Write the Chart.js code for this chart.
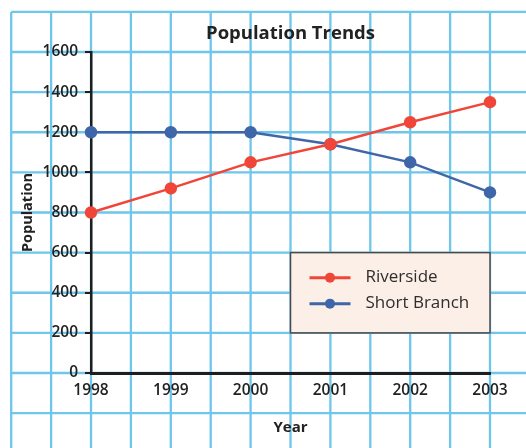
<!DOCTYPE html>
<html>
<head>
<meta charset="utf-8">
<script src="https://cdn.jsdelivr.net/npm/chart.js@4"></script>
<style>
  html, body { margin: 0; padding: 0; background: #fff; }
  canvas { display: block; }
</style>
</head>
<body>
<canvas id="pop-chart" width="526" height="448"></canvas>
<script>
const years = [1998, 1999, 2000, 2001, 2002, 2003];
const riverside = [800, 920, 1050, 1140, 1250, 1350];
const shortBranch = [1200, 1200, 1200, 1140, 1050, 900];
const yTicks = [0, 200, 400, 600, 800, 1000, 1200, 1400, 1600];

const FONT = "'Open Sans', 'DejaVu Sans', sans-serif";
const INK = '#222';
const PAPER = '#6ec6ea';

function pts(vals) {
    return vals.map((v, i) => ({ x: years[i], y: v }));
}

// graph paper behind everything, lined up with the scales
const graphPaper = {
    id: 'graphPaper',
    beforeDraw(chart) {
        const { ctx, width, height, scales: { x, y } } = chart;
        ctx.save();
        ctx.fillStyle = '#fff';
        ctx.fillRect(0, 0, width, height);
        const left = x.getPixelForValue(years[0] - 1);
        const top = y.getPixelForValue(yTicks[yTicks.length - 1] + 200);
        ctx.strokeStyle = PAPER;
        ctx.lineWidth = 2.3;
        ctx.beginPath();
        for (let v = years[0] - 1; ; v += 0.5) {
            const px = x.getPixelForValue(v);
            if (px > width) break;
            ctx.moveTo(px, top);
            ctx.lineTo(px, height);
        }
        for (let v = yTicks[yTicks.length - 1] + 200; ; v -= 200) {
            const py = y.getPixelForValue(v);
            if (py > height) break;
            ctx.moveTo(left, py);
            ctx.lineTo(width, py);
        }
        ctx.stroke();
        ctx.restore();
    }
};

// boxed legend sitting on the grid inside the plot
const boxLegend = {
    id: 'boxLegend',
    afterDatasetsDraw(chart) {
        const { ctx, scales: { x, y } } = chart;
        const bx = x.getPixelForValue(2000.5);
        const bx2 = x.getPixelForValue(2003);
        const by = y.getPixelForValue(600);
        const by2 = y.getPixelForValue(200);
        ctx.save();
        ctx.fillStyle = '#fcefe7';
        ctx.fillRect(bx, by, bx2 - bx, by2 - by);
        ctx.strokeStyle = '#4a4a4a';
        ctx.lineWidth = 1.5;
        ctx.strokeRect(bx, by, bx2 - bx, by2 - by);
        chart.data.datasets.forEach((ds, i) => {
            const ly = by + 25 + i * 26;
            ctx.strokeStyle = ds.borderColor;
            ctx.lineWidth = 3;
            ctx.beginPath();
            ctx.moveTo(bx + 19, ly);
            ctx.lineTo(bx + 60, ly);
            ctx.stroke();
            ctx.fillStyle = ds.borderColor;
            ctx.beginPath();
            ctx.arc(bx + 39.5, ly, 5, 0, Math.PI * 2);
            ctx.fill();
            ctx.fillStyle = '#2e2e2e';
            ctx.font = '17px ' + FONT;
            ctx.textBaseline = 'middle';
            ctx.fillText(ds.label, bx + 75, ly);
        });
        ctx.restore();
    }
};

const ctx = document.getElementById('pop-chart');

new Chart(ctx, {
    type: 'line',
    data: {
        datasets: [{
            label: 'Riverside',
            data: pts(riverside),
            borderColor: '#f0463a',
            backgroundColor: '#f0463a',
            borderWidth: 2.5,
            pointRadius: 5,
            pointHoverRadius: 5,
            clip: false
        }, {
            label: 'Short Branch',
            data: pts(shortBranch),
            borderColor: '#3f66a8',
            backgroundColor: '#3f66a8',
            borderWidth: 2.5,
            pointRadius: 5,
            pointHoverRadius: 5,
            clip: false
        }]
    },
    options: {
        responsive: false,
        animation: false,
        layout: { padding: { left: 0, top: 0, right: 36, bottom: 0 } },
        plugins: {
            legend: { display: false },
            tooltip: { enabled: false },
            title: {
                display: true,
                text: 'Population Trends',
                fullSize: false,
                color: INK,
                font: { family: FONT, size: 18.5, weight: 'bold', lineHeight: 1.2 },
                padding: { top: 23, bottom: 6.8 }
            }
        },
        scales: {
            x: {
                type: 'linear',
                min: years[0],
                max: years[years.length - 1],
                afterFit(scale) { scale.height = 75; },
                afterBuildTicks(scale) { scale.ticks = years.map(v => ({ value: v })); },
                ticks: {
                    color: INK,
                    padding: 8,
                    maxRotation: 0,
                    font: { family: FONT, size: 15.5, weight: '600' },
                    callback: v => String(v)
                },
                grid: { display: false, drawTicks: false },
                border: { display: true, color: '#1e1e1e', width: 3 },
                title: {
                    display: true,
                    text: 'Year',
                    color: INK,
                    font: { family: FONT, size: 15, weight: 'bold', lineHeight: 1.2 },
                    padding: { top: 0, bottom: 11 }
                }
            },
            y: {
                min: yTicks[0],
                max: yTicks[yTicks.length - 1],
                afterFit(scale) { scale.width = 91; },
                afterBuildTicks(scale) { scale.ticks = yTicks.map(v => ({ value: v })); },
                ticks: {
                    color: INK,
                    padding: 7,
                    font: { family: FONT, size: 15.5, weight: '600' },
                    callback: v => String(v)
                },
                grid: {
                    display: true,
                    drawOnChartArea: false,
                    drawTicks: true,
                    tickLength: 6,
                    color: '#1e1e1e',
                    lineWidth: 2
                },
                border: { display: true, color: '#1e1e1e', width: 2.5 },
                title: {
                    display: true,
                    text: 'Population',
                    color: INK,
                    font: { family: FONT, size: 14.5, weight: 'bold', lineHeight: 1.2 },
                    padding: { top: 19, bottom: 0 }
                }
            }
        }
    },
    plugins: [graphPaper, boxLegend]
});
</script>
</body>
</html>
